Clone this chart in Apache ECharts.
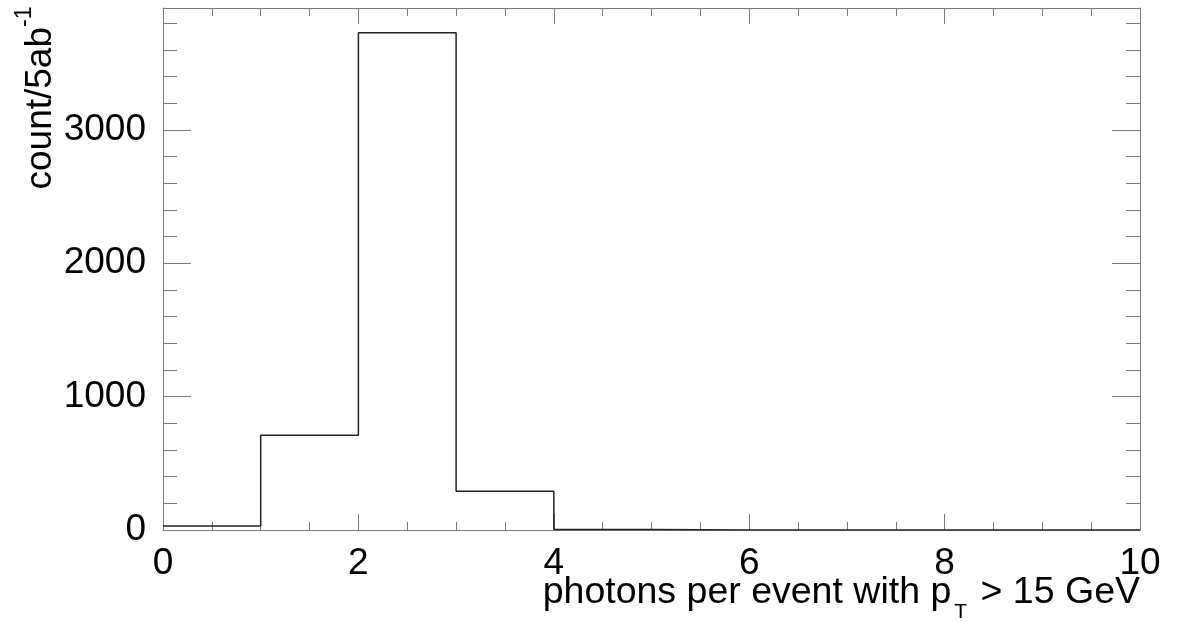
<!DOCTYPE html>
<html>
<head>
<meta charset="utf-8">
<script src="https://cdn.jsdelivr.net/npm/echarts@6/dist/echarts.min.js"></script>
<style>
html,body{margin:0;padding:0;background:#fff;}
#chart{width:1180px;height:622px;}
</style>
</head>
<body>
<div id="chart"></div>
<script>
// bin lower edges and counts (histogram, bin width 1)
var binEdges = [0, 1, 2, 3, 4, 5, 6, 7, 8, 9];
var binCounts = [30, 710, 3728, 290, 4, 0, 0, 0, 0, 0];
var xMax = 10;
var yMax = 3914;
var xTitle = 'photons per event with p';
var xTitleSub = 'T';
var xTitleEnd = ' > 15 GeV';
var yTitle = 'count/5ab';
var yTitleSup = '-1';

var FONT = '"Liberation Sans", Arial, Helvetica, sans-serif';
var AX = '#7a7a7a';

var histData = binEdges.map(function (e, i) { return [e, binCounts[i]]; });
histData.push([xMax, binCounts[binCounts.length - 1]]);

var mctx = document.createElement('canvas').getContext('2d');
function tw(str, size) { mctx.font = size + 'px ' + FONT; return mctx.measureText(str).width; }

var chart = echarts.init(document.getElementById('chart'), null, {renderer: 'canvas'});

function xAxisDef(pos, showLabel) {
  return {
    type: 'value', position: pos, min: 0, max: xMax, interval: 2,
    axisLine: {show: true, onZero: false, lineStyle: {color: AX, width: 1}},
    axisTick: {show: true, inside: true, length: 16, lineStyle: {color: AX, width: 1}},
    minorTick: {show: true, splitNumber: 4, length: 8, lineStyle: {color: AX, width: 1}},
    splitLine: {show: false}, minorSplitLine: {show: false},
    axisLabel: {show: showLabel, margin: 15, color: '#000', fontSize: 37, fontFamily: FONT}
  };
}
function yAxisDef(pos, interval, tickLen, showLabel, showLine) {
  return {
    type: 'value', position: pos, min: 0, max: yMax, interval: interval,
    axisLine: {show: showLine, onZero: false, lineStyle: {color: AX, width: 1}},
    axisTick: {show: true, inside: true, length: tickLen, lineStyle: {color: AX, width: 1}},
    splitLine: {show: false},
    axisLabel: {
      show: showLabel, margin: 17, color: '#000', fontSize: 37, fontFamily: FONT,
      formatter: function (v) { return (v % 1000 === 0) ? String(v) : ''; }
    }
  };
}

// x title pieces, right-aligned at the plot's right edge
var XF = 37.5, XS = 21, subGap = 3;
var xRight = 1140;
var w3 = tw(xTitleEnd, XF), wS = tw(xTitleSub, XS);
var x3 = xRight - w3, xS = x3 - wS - subGap;
var xMainMid = 593, xSubMid = 612;

// y title pieces (rotated)
var YF = 37, YS = 23;
var yEnd = 27;

function txt(x, y, str, size, align, vAlign, rot) {
  return {
    type: 'text', x: x, y: y, rotation: rot || 0, z: 10,
    style: {text: str, fontSize: size, fontFamily: FONT, fill: '#000', align: align, verticalAlign: vAlign}
  };
}

chart.setOption({
  animation: false,
  backgroundColor: '#fff',
  grid: {left: 163, right: 40, top: 8, bottom: 92, containLabel: false},
  xAxis: [xAxisDef('bottom', true), xAxisDef('top', false)],
  yAxis: [
    yAxisDef('left', 1000, 28, true, true),
    yAxisDef('left', 200, 14, false, false),
    yAxisDef('right', 1000, 28, false, true),
    yAxisDef('right', 200, 14, false, false)
  ],
  series: [{
    type: 'line', step: 'end', data: histData, xAxisIndex: 0, yAxisIndex: 0,
    showSymbol: false, symbol: 'none', z: 3,
    lineStyle: {color: '#222', width: 1.5}
  }],
  graphic: [
    txt(xS - subGap, xMainMid, xTitle, XF, 'right', 'middle'),
    txt(xS, xSubMid, xTitleSub, XS, 'left', 'middle'),
    txt(x3, xMainMid, xTitleEnd, XF, 'left', 'middle'),
    txt(40.5, yEnd, yTitle, YF, 'right', 'middle', Math.PI / 2),
    txt(25, yEnd, yTitleSup, YS, 'left', 'middle', Math.PI / 2)
  ]
});
</script>
</body>
</html>
